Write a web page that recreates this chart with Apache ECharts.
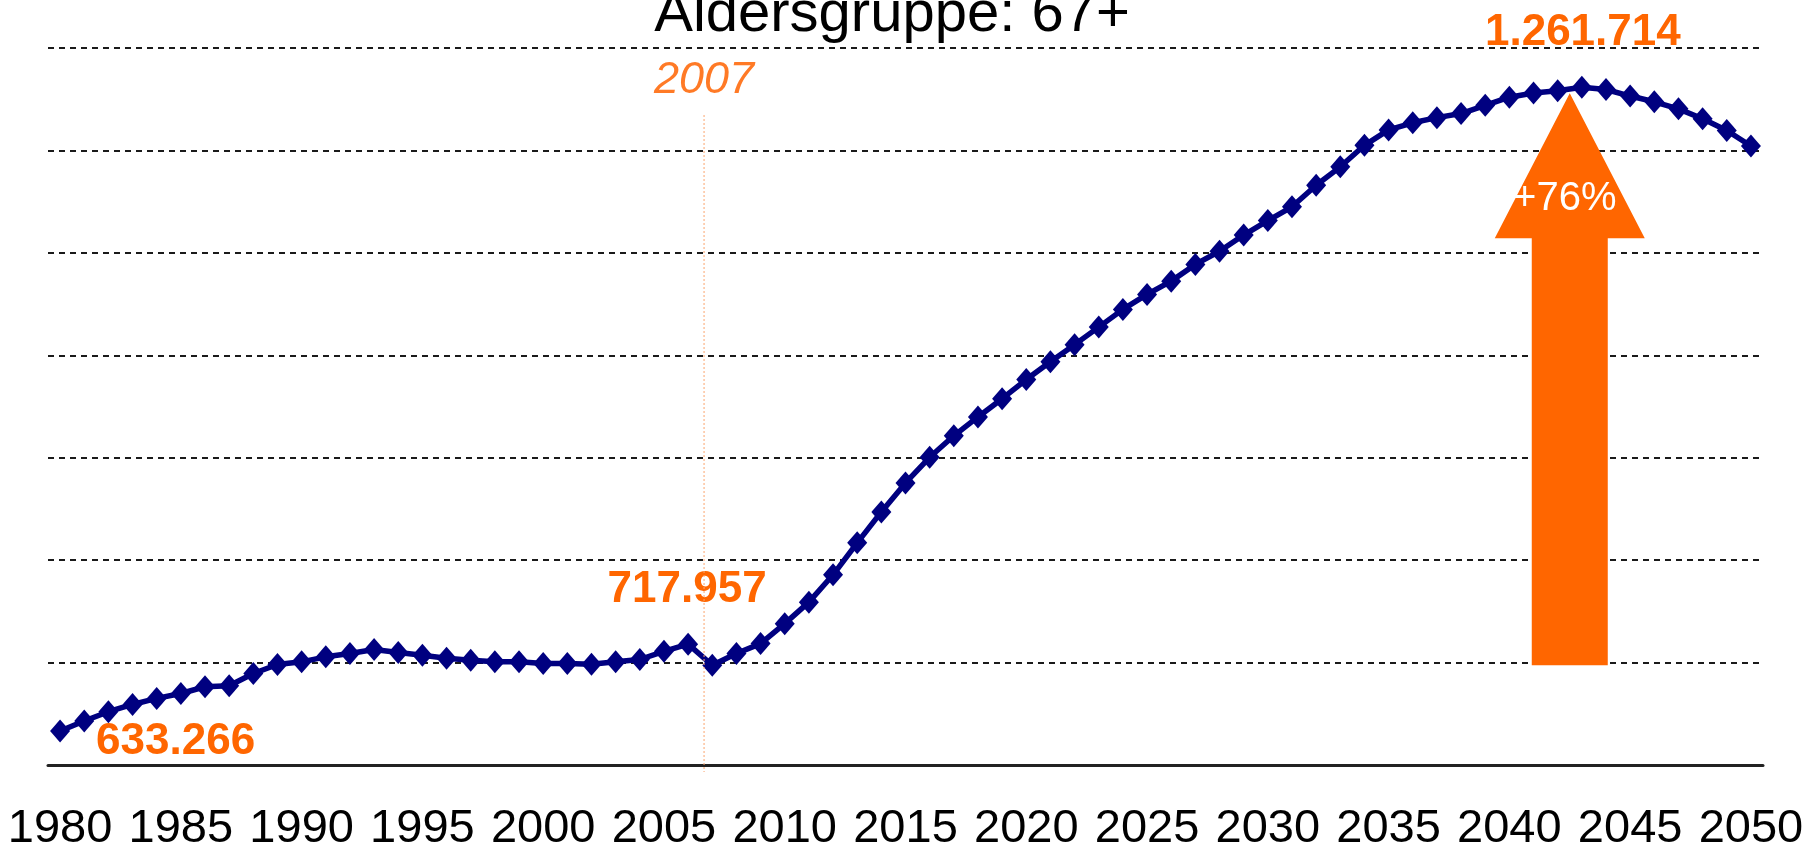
<!DOCTYPE html>
<html>
<head>
<meta charset="utf-8">
<script src="https://cdn.jsdelivr.net/npm/echarts@6/dist/echarts.min.js"></script>
<style>
html,body{margin:0;padding:0;background:#ffffff;}
#c{width:1807px;height:853px;}
</style>
</head>
<body>
<div id="c"></div>
<script>
// ---- data ----
const years = ['1980','1981','1982','1983','1984','1985','1986','1987','1988','1989',
  '1990','1991','1992','1993','1994','1995','1996','1997','1998','1999',
  '2000','2001','2002','2003','2004','2005','2006','2007','2008','2009',
  '2010','2011','2012','2013','2014','2015','2016','2017','2018','2019',
  '2020','2021','2022','2023','2024','2025','2026','2027','2028','2029',
  '2030','2031','2032','2033','2034','2035','2036','2037','2038','2039',
  '2040','2041','2042','2043','2044','2045','2046','2047','2048','2049','2050'];
const population67plus = [633266,642900,652000,659100,665000,669800,676400,677300,689300,698100,
  700700,705600,708800,712700,709800,707100,704300,702300,700700,700700,
  699000,699000,698400,700700,703000,711000,717957,697400,708800,718500,
  738000,759000,785700,816900,847100,875400,900400,921400,939800,957600,
  976300,993700,1010400,1027500,1044800,1059400,1072400,1088700,1101600,1117400,
  1131500,1145000,1166000,1184000,1205000,1220000,1227000,1232000,1236000,1244000,
  1252000,1256000,1258200,1261714,1259500,1253100,1247500,1240600,1230900,1219500,1204300];
const titleText = 'Aldersgruppe: 67+';
const baseYear = '2006';       // last observed value labelled
const projectionYear = '2007'; // start of projection marker
const markerLabel = '2007';

// ---- helpers ----
const FONT = "'Liberation Sans', Arial, Helvetica, sans-serif";
const ORANGE = '#FF6600';
function fmt(v){ return String(v).replace(/\B(?=(\d{3})+(?!\d))/g, '.'); }

const chart = echarts.init(document.getElementById('c'), null, {renderer:'canvas'});
chart.setOption({
  animation:false,
  backgroundColor:'#ffffff',
  grid:{left:48, right:44, top:48, bottom:86},
  xAxis:{
    type:'category', data:years, boundaryGap:true,
    axisLine:{lineStyle:{color:'#222222', width:3}},
    axisTick:{show:false},
    axisLabel:{interval:4, margin:41, fontSize:47, color:'#000000', fontFamily:FONT},
    splitLine:{show:false}
  },
  yAxis:{
    type:'value', min:600000, max:1300000, interval:100000,
    axisLine:{show:false}, axisTick:{show:false}, axisLabel:{show:false},
    splitLine:{lineStyle:{type:[6,5], color:'#1a1a1a', width:2.2}}
  },
  series:[{
    type:'line', data:population67plus, symbol:'diamond', symbolSize:[20,23],
    showAllSymbol:true,
    itemStyle:{color:'#000080'}, lineStyle:{color:'#000080', width:5.5},
    z:3
  }]
});

// ---- annotations anchored on data ----
const px = (i) => chart.convertToPixel({xAxisIndex:0, yAxisIndex:0}, [i, population67plus[i]]);
const xOf = (i) => chart.convertToPixel({xAxisIndex:0}, years[i]);
const yOf = (v) => chart.convertToPixel({yAxisIndex:0}, v);

const iStart = 0;
const iBase = years.indexOf(baseYear);
const iProj = years.indexOf(projectionYear);
let iPeak = 0;
population67plus.forEach((v,i)=>{ if(v>population67plus[iPeak]) iPeak=i; });

const pStart = px(iStart), pBase = px(iBase), pPeak = px(iPeak);
const step = xOf(1) - xOf(0);
const lineX = xOf(iBase) + 0.66*step;
const arrowX = xOf(iPeak) - 0.5*step;
const arrowTip = pPeak[1] + 6;
const arrowBottom = yOf(population67plus[iProj]);
const headBase = arrowTip + 145;
const headHalf = 75, shaftHalf = 38;
const pct = Math.round((population67plus[iPeak]/population67plus[iBase]-1)*100);

chart.setOption({
  graphic:[
    {type:'text', z:10, style:{text:titleText, x:892, y:15, font:'58px '+FONT, fill:'#000000', align:'center', verticalAlign:'middle'}},
    {type:'polygon', z:1, shape:{points:[
      [arrowX-shaftHalf, arrowBottom],[arrowX-shaftHalf, headBase],[arrowX-headHalf, headBase],
      [arrowX, arrowTip],[arrowX+headHalf, headBase],[arrowX+shaftHalf, headBase],[arrowX+shaftHalf, arrowBottom]]},
      style:{fill:ORANGE}},
    {type:'text', z:2, style:{text:'+'+pct+'%', x:arrowX-5, y:headBase-39, font:'40px '+FONT, fill:'#ffffff', align:'center', verticalAlign:'middle'}},
    {type:'line', z:5, shape:{x1:lineX, y1:115, x2:lineX, y2:772}, style:{stroke:'#FBA56E', lineWidth:1, lineDash:[2,2]}},
    {type:'text', z:5, style:{text:markerLabel, x:lineX, y:80, font:'italic 45px '+FONT, fill:'#FF7A26', align:'center', verticalAlign:'middle'}},
    {type:'text', z:4, style:{text:fmt(population67plus[iStart]), x:pStart[0]+115.5, y:pStart[1]+11, font:'bold 44px '+FONT, fill:ORANGE, align:'center', verticalAlign:'middle'}},
    {type:'text', z:4, style:{text:fmt(population67plus[iBase]), x:pBase[0]-1, y:pBase[1]-54.6, font:'bold 44px '+FONT, fill:ORANGE, align:'center', verticalAlign:'middle'}},
    {type:'text', z:4, style:{text:fmt(population67plus[iPeak]), x:pPeak[0]+1, y:pPeak[1]-54, font:'bold 44px '+FONT, fill:ORANGE, align:'center', verticalAlign:'middle'}}
  ]
});
</script>
</body>
</html>
